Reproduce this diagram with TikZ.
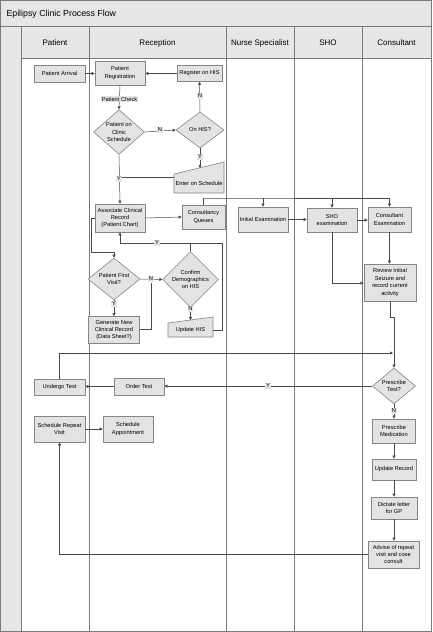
\documentclass[tikz,border=0pt]{standalone}
\usepackage{fontspec}
\setmainfont{Liberation Sans}
\usetikzlibrary{shapes.geometric,arrows.meta}
\definecolor{boxfill}{HTML}{E3E3E3}
\definecolor{boxline}{HTML}{858585}
\definecolor{conn}{HTML}{4A4A4A}
\definecolor{bandfill}{HTML}{E6E6E6}
\definecolor{laneline}{HTML}{7A7A7A}
\tikzset{
  txt/.style={font=\fontsize{5.7}{7.4}\selectfont, align=center, inner sep=0pt},
  proc/.style={txt, rectangle, draw=boxline, fill=boxfill, line width=0.6pt},
  dec/.style={txt, diamond, draw=boxline, fill=boxfill, line width=0.6pt},
  manual/.style={draw=boxline, fill=boxfill, line width=0.6pt},
  lbl/.style={font=\fontsize{5.7}{6.5}\selectfont, fill=boxfill, inner sep=0.8pt},
  con/.style={draw=conn, line width=0.5pt},
  arr/.style={con, -{Triangle[length=3pt,width=3pt]}},
  hdr/.style={font=\fontsize{8}{9}\selectfont},
}
\begin{document}
\begin{tikzpicture}[x=1pt,y=-1pt]
\useasboundingbox (0,0) rectangle (432,632);
% frame and bands
\fill[bandfill] (0,0) rectangle (432,58);
\fill[bandfill] (0,0) rectangle (21,632);
\draw[laneline, line width=0.8pt] (0.5,0.5) rectangle (431.5,631.5);
\draw[laneline, line width=0.6pt] (0,26) -- (432,26);
\draw[laneline, line width=0.6pt] (21,58) -- (432,58);
\foreach \x in {21,89,226,294,362} \draw[laneline, line width=0.6pt] (\x,26) -- (\x,632);
\node[hdr, anchor=west, font=\fontsize{8.8}{10}\selectfont] (title) at (3,14) {Epilipsy Clinic Process Flow};
\node[hdr] (h1) at (55,43) {Patient};
\node[hdr] (h2) at (157.5,43) {Reception};
\node[hdr] (h3) at (260,43) {Nurse Specialist};
\node[hdr] (h4) at (328,43) {SHO};
\node[hdr] (h5) at (396.5,43) {Consultant};

% nodes
\node[proc, minimum width=51pt, minimum height=17pt] (pa) at (59.5,73.5) {Patient Arrival};
\node[proc, minimum width=50pt, minimum height=24pt] (pr) at (120,73) {Patient\\Registration};
\node[proc, minimum width=45pt, minimum height=16pt] (roh) at (199.5,73.5) {Register on HIS};
\node[dec, minimum width=51pt, minimum height=41pt] (d1) at (119,132) {Patient on\\Clinic\\Schedule};
\node[dec, minimum width=48pt, minimum height=36pt] (d2) at (200,130) {On HIS?};
% Enter on Schedule (manual input)
\draw[manual] (174,193) -- (224,193) -- (224,162) -- (174,174) -- cycle;
\node[txt] (es) at (199,183) {Enter on Schedule};
\coordinate (estop) at (200,168);
\node[proc, minimum width=50pt, minimum height=28pt] (acr) at (120,218) {Associate Clinical\\Record\\(Patient Chart)};
\node[proc, minimum width=43pt, minimum height=24pt] (cq) at (203.5,217) {Consultancy\\Queues};
\node[proc, minimum width=50pt, minimum height=25pt] (ie) at (263,219.5) {Initial Examination};
\node[proc, minimum width=50pt, minimum height=24pt] (she) at (332,220) {SHO\\examination};
\node[proc, minimum width=43pt, minimum height=25pt] (ce) at (389.5,219.5) {Consultant\\Examination};
\node[proc, minimum width=52pt, minimum height=37pt] (rev) at (390,282.5) {Review Initial\\Seizure and\\record current\\activity};
\node[dec, minimum width=52pt, minimum height=32pt] (d3) at (114,279) {Patient First\\Visit?};
\node[dec, minimum width=51pt, minimum height=37pt] (d4) at (190.5,279.5) {Confirm\\Demographics\\on HIS};
\node[proc, minimum width=51pt, minimum height=27pt] (gen) at (114,330) {Generate New\\Clinical Record\\(Data Sheet?)};
% Update HIS (manual input)
\draw[manual] (168,337) -- (213,337) -- (213,317) -- (168,323) -- cycle;
\node[txt] (uh) at (190.5,330.5) {Update HIS};
\coordinate (uhtop) at (190.5,320);
\node[dec, minimum width=43pt, minimum height=36pt] (d5) at (394,386) {Prescribe\\Test?};
\node[proc, minimum width=50pt, minimum height=17pt] (ot) at (139,386.5) {Order Test};
\node[proc, minimum width=51pt, minimum height=16pt] (ut) at (59.5,387) {Undergo Test};
\node[proc, minimum width=43pt, minimum height=24pt] (pm) at (394,431) {Prescribe\\Medication};
\node[proc, minimum width=51pt, minimum height=26pt] (srv) at (59.5,429) {Schedule Repeat\\Visit};
\node[proc, minimum width=50pt, minimum height=26pt] (sa) at (128,429) {Schedule\\Appointment};
\node[proc, minimum width=44pt, minimum height=21pt] (ur) at (394,469.5) {Update Record};
\node[proc, minimum width=46pt, minimum height=22pt] (dl) at (394,508) {Dictate letter\\for GP};
\node[proc, minimum width=51pt, minimum height=27pt] (adv) at (393.5,554.5) {Advise of repeat\\visit and cose\\consult};

% connectors
\draw[arr] (pa.east) -- (pr.west |- pa.east);
\draw[arr] (roh.west) -- (pr.east |- roh.west);
\draw[arr] (pr.south) -- (d1.north);
\node[lbl] (l1) at (119.5,99) {Patient Check};
\draw[arr] (d1.east) -- (d2.west);
\node[lbl] (l2) at (160,130) {N};
\draw[arr] (d2.north) -- (roh.south);
\node[lbl] (l3) at (200,96) {N};
\draw[arr] (d2.south) -- (estop);
\node[lbl] (l4) at (200,157) {Y};
\draw[arr] (d1.south) -- (acr.north);
\draw[con] (174,177) -- (119,177);
\node[lbl] (l5) at (119,179) {Y};
\draw[arr] (acr.east) -- (cq.west);
\draw[arr] (cq.north) |- (203,198) -| (ce.north);
\draw[arr] (ie.north |- 0,198) -- (ie.north);
\draw[arr] (she.north |- 0,198) -- (she.north);
\draw[arr] (ie.east) -- (she.west |- ie.east);
\draw[arr] (she.east) -- (ce.west |- she.east);
\draw[arr] (ce.south) -- (rev.north -| ce.south);
\draw[arr] (she.south) |- (rev.west |- 0,283);
\draw[arr] (rev.south) -- (390,317) -- (394,317) -- (d5.north);
\draw[arr] (ut.north) |- (393,353);
\draw[arr] (d5.west) -- (ot.east |- d5.west);
\node[lbl] (l6) at (268,386) {Y};
\draw[arr] (ot.west) -- (ut.east |- ot.west);
\draw[arr] (d5.south) -- (pm.north);
\node[lbl] (l7) at (394,411) {N};
\draw[arr] (pm.south) -- (ur.north);
\draw[arr] (ur.south) -- (dl.north);
\draw[arr] (dl.south) -- (adv.north -| dl.south);
\draw[arr] (adv.west) -| (srv.south);
\draw[arr] (srv.east) -- (sa.west);
\draw[arr] (acr.west) -- (91,218) -- (91,252) -- (114,252) -- (d3.north);
\draw[arr] (d3.east) -- (d4.west);
\node[lbl] (l8) at (151,279) {N};
\draw[arr] (d3.south) -- (gen.north);
\node[lbl] (l9) at (114,304) {Y};
\draw[con] (gen.east |- 0,329) -- (151,329) -- (151,283);
\draw[arr] (d4.north) |- (120,243) -- (acr.south);
\node[lbl] (l10) at (157,243) {Y};
\draw[arr] (d4.south) -- (uhtop);
\node[lbl] (l11) at (190.5,309) {N};
\draw[con] (213,330) -- (222,330) -- (222,243) -- (190.5,243);
\end{tikzpicture}
\end{document}
